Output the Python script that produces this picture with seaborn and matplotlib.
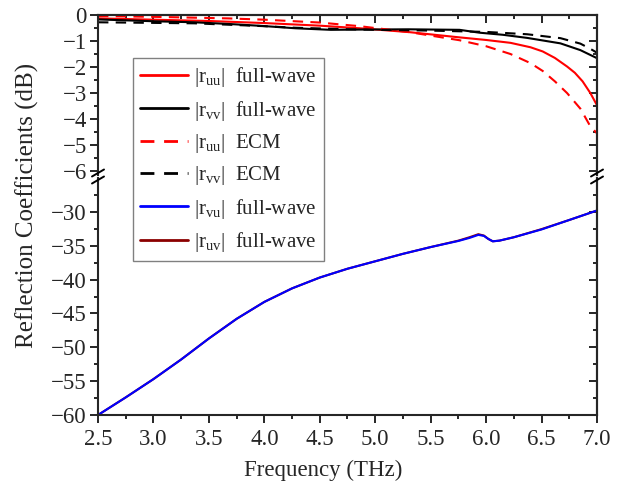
import matplotlib
matplotlib.use("Agg")
import matplotlib.pyplot as plt
import seaborn as sns
from matplotlib.ticker import MultipleLocator, FixedLocator
from matplotlib.lines import Line2D

# ---------------- data ----------------
freq_ruu_fw = [2.5, 3.0, 3.5, 4.0, 4.5, 4.86, 5.31, 5.76, 6.0, 6.22, 6.4, 6.51, 6.62, 6.73, 6.8, 6.87, 6.94, 7.0]
ruu_fw = [-0.13, -0.18, -0.23, -0.31, -0.41, -0.51, -0.66, -0.86, -0.96, -1.07, -1.24, -1.40, -1.65, -1.98, -2.22, -2.55, -3.0, -3.47]

freq_ruu_ecm = [2.5, 3.0, 3.67, 4.0, 4.5, 4.86, 5.31, 5.76, 6.0, 6.22, 6.4, 6.51, 6.62, 6.73, 6.85, 6.94, 7.0]
ruu_ecm = [-0.04, -0.07, -0.13, -0.18, -0.29, -0.43, -0.66, -0.97, -1.2, -1.5, -1.85, -2.15, -2.55, -3.0, -3.6, -4.28, -4.55]

freq_rvv_fw = [2.5, 3.0, 3.37, 3.7, 3.98, 4.28, 4.6, 4.86, 5.3, 5.76, 5.94, 6.15, 6.37, 6.67, 6.85, 7.0]
rvv_fw = [-0.17, -0.24, -0.28, -0.35, -0.42, -0.51, -0.57, -0.56, -0.55, -0.57, -0.68, -0.76, -0.88, -1.09, -1.35, -1.66]

freq_rvv_ecm = [2.5, 3.37, 4.0, 4.28, 4.86, 5.5, 6.0, 6.37, 6.67, 6.85, 6.94, 7.0]
rvv_ecm = [-0.28, -0.32, -0.43, -0.49, -0.56, -0.6, -0.65, -0.74, -0.89, -1.1, -1.3, -1.45]

freq_cross = [2.5, 2.75, 3.0, 3.25, 3.5, 3.75, 4.0, 4.25, 4.5, 4.75, 5.0, 5.25, 5.5, 5.75, 5.85,
              5.93, 5.98, 6.02, 6.06, 6.12, 6.25, 6.5, 6.75, 7.0]
rvu_fw = [-60.0, -57.4, -54.7, -51.8, -48.7, -45.8, -43.3, -41.3, -39.7, -38.4, -37.3, -36.2, -35.2, -34.3, -33.85,
          -33.4, -33.55, -34.0, -34.35, -34.25, -33.75, -32.6, -31.2, -29.8]
ruv_fw = [-60.0, -57.4, -54.7, -51.8, -48.7, -45.8, -43.3, -41.3, -39.7, -38.4, -37.3, -36.2, -35.2, -34.25, -33.75,
          -33.3, -33.5, -34.0, -34.35, -34.25, -33.75, -32.55, -31.2, -29.8]

labels = [r"|r$_{\mathrm{uu}}$|  full-wave",
          r"|r$_{\mathrm{vv}}$|  full-wave",
          r"|r$_{\mathrm{uu}}$|  ECM",
          r"|r$_{\mathrm{vv}}$|  ECM",
          r"|r$_{\mathrm{vu}}$|  full-wave",
          r"|r$_{\mathrm{uv}}$|  full-wave"]

xticks = [2.5, 3.0, 3.5, 4.0, 4.5, 5.0, 5.5, 6.0, 6.5, 7.0]
yticks_top = [0, -1, -2, -3, -4, -5, -6]
yticks_bot = [-30, -35, -40, -45, -50, -55, -60]
yminor_bot = [-27.5, -32.5, -37.5, -42.5, -47.5, -52.5, -57.5]

# ---------------- style ----------------
sns.set_style("ticks")
plt.rcParams['font.family'] = ['Liberation Serif', 'DejaVu Serif']
plt.rcParams['mathtext.fontset'] = 'custom'
plt.rcParams['mathtext.rm'] = 'Liberation Serif'
plt.rcParams['mathtext.it'] = 'Liberation Serif:italic'
plt.rcParams['mathtext.bf'] = 'Liberation Serif:bold'

W, H = 637, 487
fig = plt.figure(figsize=(W / 100, H / 100), dpi=100)


def fx(px):
    return px / W


def fy(py):
    return 1 - py / H


L, R = 98, 597
ax_top = fig.add_axes([fx(L), fy(175), (R - L) / W, (175 - 15) / H])
ax_bot = fig.add_axes([fx(L), fy(415), (R - L) / W, (415 - 178) / H])

LW = 1.5
DASH = (0, (5, 3.5))
sns.lineplot(x=freq_ruu_fw, y=ruu_fw, ax=ax_top, color='#ff0000', lw=LW, label=labels[0], legend=False, estimator=None)
sns.lineplot(x=freq_rvv_fw, y=rvv_fw, ax=ax_top, color='#000000', lw=LW, label=labels[1], legend=False, estimator=None)
sns.lineplot(x=freq_ruu_ecm, y=ruu_ecm, ax=ax_top, color='#ff0000', lw=LW, label=labels[2], legend=False,
             estimator=None, linestyle=DASH)
sns.lineplot(x=freq_rvv_ecm, y=rvv_ecm, ax=ax_top, color='#000000', lw=LW, label=labels[3], legend=False,
             estimator=None, linestyle=DASH)
sns.lineplot(x=freq_cross, y=ruv_fw, ax=ax_bot, color='#8b0000', lw=LW, label=labels[5], legend=False, estimator=None)
sns.lineplot(x=freq_cross, y=rvu_fw, ax=ax_bot, color='#0000ff', lw=LW, label=labels[4], legend=False, estimator=None)

TS = 16.5
for ax in (ax_top, ax_bot):
    ax.set_xlim(2.5, 7.0)
    ax.set_xlabel("")
    ax.set_ylabel("")
    for s in ax.spines.values():
        s.set_linewidth(1.5)
    ax.tick_params(which='major', direction='out', length=6, width=1.4, labelsize=TS, pad=2)
    ax.tick_params(which='minor', direction='out', length=3, width=1.4)
    ax.xaxis.set_major_locator(FixedLocator(xticks))
    ax.xaxis.set_minor_locator(MultipleLocator(0.25))

ax_top.set_ylim(-6.15, 0)
ax_top.yaxis.set_major_locator(FixedLocator(yticks_top))
ax_top.yaxis.set_minor_locator(MultipleLocator(0.5))
ax_top.set_yticklabels([f"{v:d}".replace("-", "\u2212") for v in yticks_top])
ax_top.spines['bottom'].set_visible(False)
ax_top.tick_params(axis='x', which='both', bottom=False, labelbottom=False)

ax_bot.set_ylim(-60, -25)
ax_bot.yaxis.set_major_locator(FixedLocator(yticks_bot))
ax_bot.yaxis.set_minor_locator(FixedLocator(yminor_bot))
ax_bot.set_yticklabels([f"{v:d}".replace("-", "\u2212") for v in yticks_bot])
ax_bot.set_xticklabels([f"{v:.1f}" for v in xticks])
ax_bot.spines['top'].set_visible(False)
ax_bot.tick_params(axis='x', which='major', pad=4)

# mirrored inward ticks on the right and top
for ax, maj, mnr in ((ax_top, yticks_top, MultipleLocator(0.5)),
                     (ax_bot, yticks_bot, FixedLocator(yminor_bot))):
    sec = ax.secondary_yaxis('right')
    sec.yaxis.set_major_locator(FixedLocator(maj))
    sec.yaxis.set_minor_locator(mnr)
    sec.tick_params(which='major', direction='in', length=6, width=1.4, labelright=False)
    sec.tick_params(which='minor', direction='in', length=3, width=1.4)
    sec.spines['right'].set_linewidth(1.5)

secx = ax_top.secondary_xaxis('top')
secx.xaxis.set_major_locator(FixedLocator(xticks))
secx.xaxis.set_minor_locator(MultipleLocator(0.25))
secx.tick_params(which='major', direction='in', length=6, width=1.4, labeltop=False)
secx.tick_params(which='minor', direction='in', length=3, width=1.4)
secx.spines['top'].set_linewidth(1.5)

# axis break marks
for xc in (L, R):
    for yc in (173, 180):
        fig.add_artist(Line2D([fx(xc - 6), fx(xc + 6)], [fy(yc + 3.5), fy(yc - 3.5)],
                              transform=fig.transFigure, color='black', lw=1.4))

# labels
fig.text(fx(27), fy(205), "Reflection Coefficients (dB)", rotation=90, ha='center', va='center', fontsize=18)
fig.text(fx(323), fy(470), "Frequency (THz)", ha='center', va='center', fontsize=16.5)

# legend
handles = {l.get_label(): l for l in ax_top.get_lines() + ax_bot.get_lines()}
hs = [handles[lb] for lb in labels]
leg = fig.legend(hs, labels, loc='upper left', bbox_to_anchor=(fx(133), fy(58)), bbox_transform=fig.transFigure,
                 frameon=True, fancybox=False, edgecolor='#808080', framealpha=1, fontsize=15,
                 handlelength=2.3, handletextpad=0.3, labelspacing=0.45, borderpad=0.35, borderaxespad=0)
leg.get_frame().set_linewidth(1.0)
for lh in leg.get_lines():
    lh.set_linewidth(2.0)

fig.savefig("out.png", dpi=100)
